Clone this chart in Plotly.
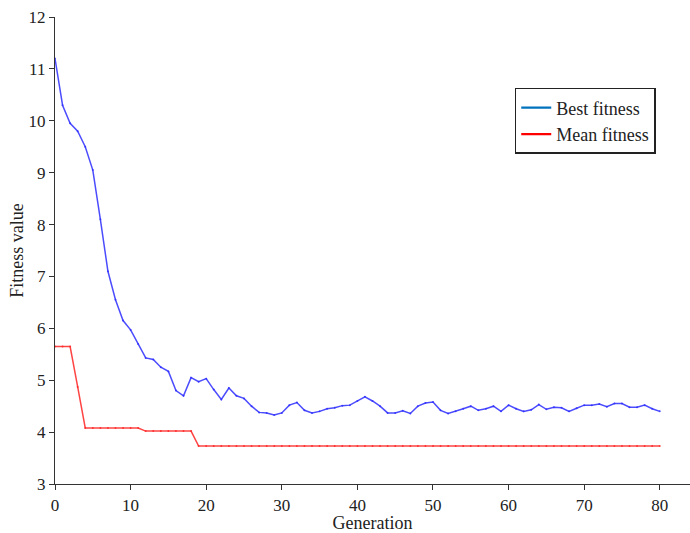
import plotly.graph_objects as go

# Generation index and fitness traces from the GA run
generation = list(range(0, 81))

best_fitness = [
    11.2, 10.3, 9.95, 9.8, 9.5, 9.05, 8.1, 7.1, 6.55, 6.15,
    5.97, 5.7, 5.43, 5.4, 5.25, 5.17, 4.8, 4.7, 5.05, 4.97,
    5.03, 4.82, 4.63, 4.85, 4.7, 4.65, 4.5, 4.38, 4.37, 4.33,
    4.37, 4.52, 4.57, 4.42, 4.37, 4.4, 4.45, 4.47, 4.51, 4.52,
    4.6, 4.68, 4.6, 4.5, 4.37, 4.37, 4.41, 4.36, 4.5, 4.56,
    4.58, 4.42, 4.36, 4.4, 4.45, 4.5, 4.42, 4.45, 4.5, 4.4,
    4.52, 4.45, 4.4, 4.43, 4.53, 4.44, 4.48, 4.47, 4.4, 4.46,
    4.52, 4.52, 4.54, 4.49, 4.55, 4.55, 4.48, 4.48, 4.52, 4.45,
    4.4,
]

mean_fitness = [5.65, 5.65, 5.65, 4.87] + [4.08] * 8 + [4.02] * 7 + [3.73] * 62

x_ticks = list(range(0, 81, 10))
y_ticks = list(range(3, 13))

FONT = "Liberation Serif, Times New Roman, serif"

fig = go.Figure()

fig.add_trace(go.Scatter(
    x=generation, y=best_fitness, mode="lines+markers",
    line=dict(color="rgba(45,45,255,0.85)", width=1.5),
    marker=dict(size=2, color="rgba(45,45,255,0.8)"),
    showlegend=False,
))
fig.add_trace(go.Scatter(
    x=generation, y=mean_fitness, mode="lines+markers",
    line=dict(color="rgba(255,35,35,0.85)", width=1.5),
    marker=dict(size=2, color="rgba(255,35,35,0.8)"),
    showlegend=False,
))

# Legend entries
fig.add_trace(go.Scatter(
    x=[None], y=[None], mode="lines", name="Best fitness",
    line=dict(color="#0072BD", width=2.2),
))
fig.add_trace(go.Scatter(
    x=[None], y=[None], mode="lines", name="Mean fitness",
    line=dict(color="#FF0000", width=2.2),
))

axis_common = dict(
    showgrid=False, zeroline=False, showline=True,
    linecolor="#333333", linewidth=1.3,
    ticks="outside", ticklen=5, tickcolor="#333333",
    tickfont=dict(family=FONT, size=17, color="#222222"),
    title_font=dict(family=FONT, size=18, color="#222222"),
)

fig.update_xaxes(
    range=[0, 84], tickvals=x_ticks, title_text="Generation",
    title_standoff=2, **axis_common,
)
fig.update_yaxes(
    range=[3, 12], tickvals=y_ticks, title_text="Fitness value",
    title_standoff=0, **axis_common,
)

fig.update_layout(
    width=690, height=533,
    margin=dict(l=55, r=0, t=17, b=49),
    plot_bgcolor="white", paper_bgcolor="white",
    font=dict(family=FONT, color="#222222"),
    legend=dict(
        x=0.724, y=0.848, xanchor="left", yanchor="top",
        bordercolor="#222222", borderwidth=1.5, bgcolor="white",
        font=dict(family=FONT, size=18, color="#222222"),
        tracegroupgap=0, itemwidth=30,
    ),
)

fig.write_html("out.html")
